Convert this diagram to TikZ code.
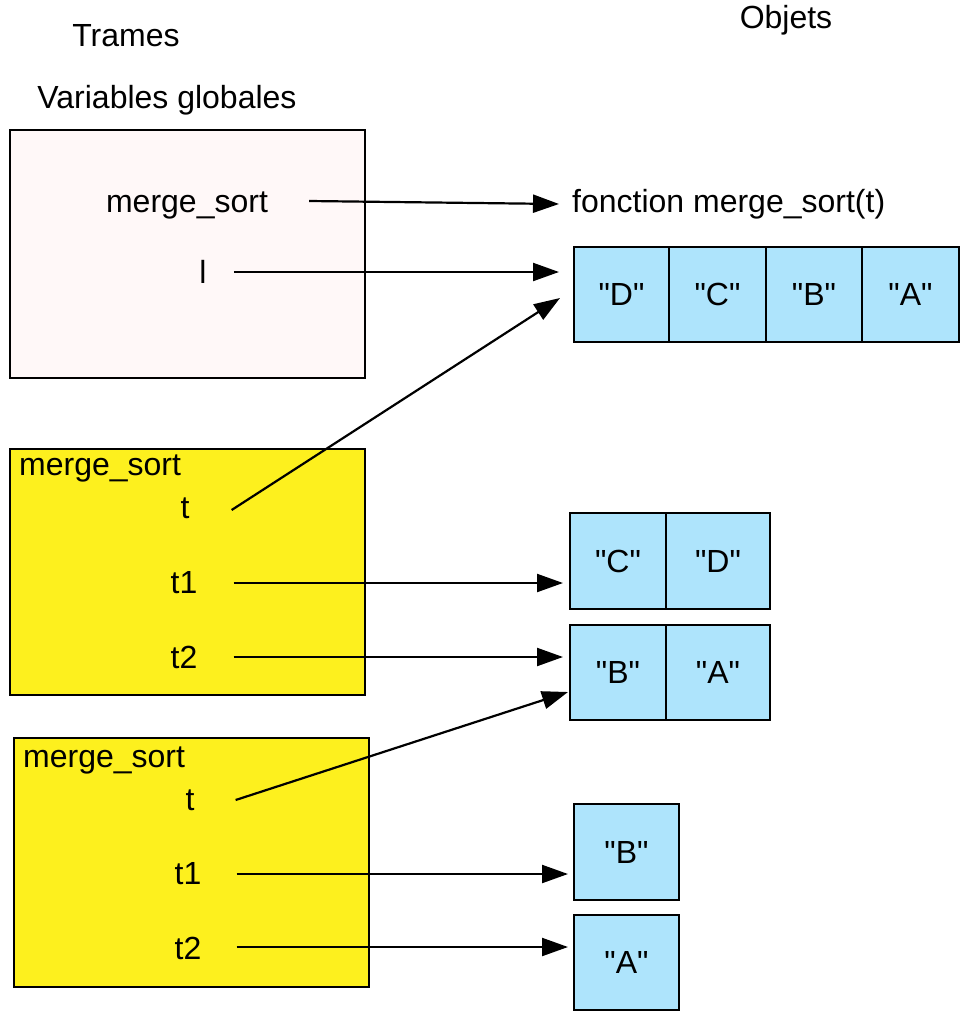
\documentclass[tikz,border=0pt]{standalone}
\usepackage{fontspec}
\setmainfont{Liberation Sans}[Ligatures=TeXOff]
\usetikzlibrary{arrows.meta}
\definecolor{pinkbg}{RGB}{255,248,248}
\definecolor{frameyellow}{RGB}{253,240,30}
\definecolor{cellblue}{RGB}{174,228,252}
\tikzset{
  lbl/.style={inner sep=0pt, anchor=base, font=\fontsize{32}{38}\selectfont},
  frame/.style={draw=black, line width=2.2pt},
  cell/.style={draw=black, line width=2.2pt, fill=cellblue, inner sep=0pt, font=\fontsize{32}{38}\selectfont},
  ptr/.style={draw=black, line width=2.2pt, -{Triangle[length=26pt,width=18pt]}},
}
\begin{document}
\begin{tikzpicture}[x=1pt,y=-1pt]
\useasboundingbox (0,0) rectangle (961,1012);
% headings
\node[lbl] (trames) at (126,46) {Trames};
\node[lbl] (objets) at (786,28) {Objets};
\node[lbl] (varglob) at (167,108) {Variables globales};
% frames
\filldraw[frame, fill=pinkbg] (10,130) rectangle (365,378);
\filldraw[frame, fill=frameyellow] (10,449) rectangle (365,695);
\filldraw[frame, fill=frameyellow] (14,738) rectangle (369,987);
% global frame labels
\node[lbl] (gms) at (187,212) {merge\_sort};
\node[lbl] (gl) at (203,283) {l};
% frame 2
\node[lbl, anchor=base west] (f2name) at (19,475) {merge\_sort};
\node[lbl] (f2t) at (185,518) {t};
\node[lbl] (f2ta) at (184,593) {t1};
\node[lbl] (f2tb) at (184,668) {t2};
% frame 3
\node[lbl, anchor=base west] (f3name) at (23,767) {merge\_sort};
\node[lbl] (f3t) at (190,810) {t};
\node[lbl] (f3ta) at (188,884) {t1};
\node[lbl] (f3tb) at (188,959) {t2};
% objects
\node[lbl, anchor=base west] (fn) at (572,212) {fonction merge\_sort(t)};
% array 1
\node[cell, minimum width=95pt, minimum height=95pt] (a1) at (621.5,294.5) {"D"};
\node[cell, minimum width=97pt, minimum height=95pt] (a2) at (717.5,294.5) {"C"};
\node[cell, minimum width=96pt, minimum height=95pt] (a3) at (814,294.5) {"B"};
\node[cell, minimum width=97pt, minimum height=95pt] (a4) at (910.5,294.5) {"A"};
% array 2
\node[cell, minimum width=96pt, minimum height=96pt] (b1) at (618,561) {"C"};
\node[cell, minimum width=104pt, minimum height=96pt] (b2) at (718,561) {"D"};
% array 3
\node[cell, minimum width=96pt, minimum height=95pt] (c1) at (618,672.5) {"B"};
\node[cell, minimum width=104pt, minimum height=95pt] (c2) at (718,672.5) {"A"};
% singletons
\node[cell, minimum width=105pt, minimum height=96pt] (d1) at (626.5,852) {"B"};
\node[cell, minimum width=105pt, minimum height=95pt] (e1) at (626.5,962.5) {"A"};
% arrow tips
\coordinate (tipfn) at (559,204);
\coordinate (tipl) at (559,272);
\coordinate (tipt) at (560,298);
\coordinate (tipta) at (563,583);
\coordinate (tiptb) at (563,657);
\coordinate (tipu) at (568,692);
\coordinate (tipua) at (568,874);
\coordinate (tipub) at (568,947);
% pointers
\draw[ptr] ([xshift=41pt,yshift=11pt]gms.base east) -- (tipfn);
\draw[ptr] ([xshift=27pt,yshift=11pt]gl.base east) -- (tipl);
\draw[ptr] ([xshift=42pt,yshift=8pt]f2t.base east) -- (tipt);
\draw[ptr] ([xshift=36pt,yshift=10pt]f2ta.base east) -- (tipta);
\draw[ptr] ([xshift=36pt,yshift=11pt]f2tb.base east) -- (tiptb);
\draw[ptr] ([xshift=41pt,yshift=10pt]f3t.base east) -- (tipu);
\draw[ptr] ([xshift=35pt,yshift=10pt]f3ta.base east) -- (tipua);
\draw[ptr] ([xshift=35pt,yshift=12pt]f3tb.base east) -- (tipub);
\end{tikzpicture}
\end{document}
